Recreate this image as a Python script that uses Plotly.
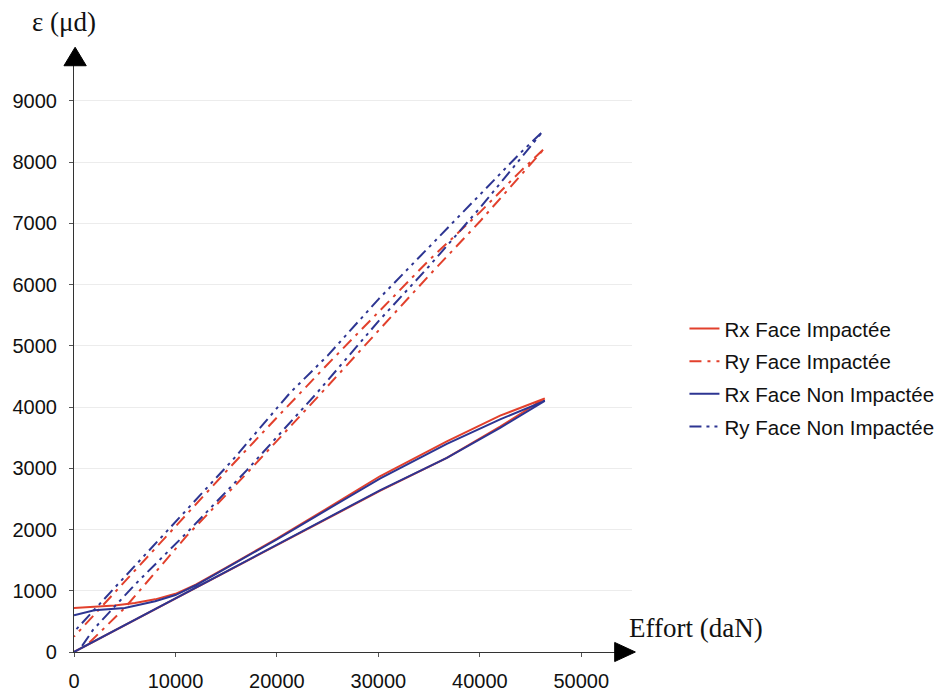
import plotly.graph_objects as go

# ---- data ----
# Rx Face Impactée (red, solid): loading branch then unloading branch
rx_imp_x = [0, 10000, 20000, 30150, 36750, 42000, 46400,
            42000, 36750, 30150, 25000, 20000, 15000, 12000, 10000, 8000, 6000, 4000, 2000, 0]
rx_imp_y = [0, 870, 1740, 2630, 3170, 3680, 4140,
            3860, 3440, 2870, 2350, 1850, 1380, 1100, 950, 860, 800, 760, 740, 720]

# Ry Face Impactée (red, dash-dot)
ry_imp_x = [1500, 5000, 11130, 17040, 23940, 30000, 35000, 40000, 46400,
            44000, 40000, 35000, 30000, 25000, 20000, 15000, 10000, 5000, 0]
ry_imp_y = [150, 720, 1900, 2920, 4150, 5250, 6150, 7030, 8230,
            7850, 7180, 6400, 5550, 4700, 3830, 2950, 2050, 1150, 250]

# Rx Face Non Impactée (blue, solid)
rx_non_x = [0, 10000, 20000, 30150, 36750, 42000, 46400,
            42000, 36750, 30150, 25000, 20000, 15000, 12000, 10000, 8000, 5000, 2000, 0]
rx_non_y = [0, 880, 1750, 2640, 3170, 3660, 4100,
            3800, 3400, 2830, 2330, 1840, 1370, 1090, 930, 830, 720, 680, 600]

# Ry Face Non Impactée (blue, dash-dot-dot)
ry_non_x = [800, 1870, 6000, 11130, 17040, 23940, 30000, 35000, 40000, 46200,
            44000, 40000, 35000, 30000, 25000, 21280, 15660, 9460, 3550, 0]
ry_non_y = [100, 360, 1100, 1950, 2970, 4230, 5400, 6300, 7250, 8500,
            8150, 7470, 6620, 5760, 4840, 4230, 3140, 2030, 965, 330]

series_names = ["Rx Face Impactée", "Ry Face Impactée",
                "Rx Face Non Impactée", "Ry Face Non Impactée"]

x_ticks = [0, 10000, 20000, 30000, 40000, 50000]
y_ticks = [0, 1000, 2000, 3000, 4000, 5000, 6000, 7000, 8000, 9000]

RED = "#e2402c"
BLUE = "#2d3592"

fig = go.Figure()
styles = [
    (rx_imp_x, rx_imp_y, RED, "solid"),
    (ry_imp_x, ry_imp_y, RED, "12px,6px,3px,6px"),
    (rx_non_x, rx_non_y, BLUE, "solid"),
    (ry_non_x, ry_non_y, BLUE, "12px,5px,3px,5px,3px,5px"),
]
for name, (xs, ys, col, dash) in zip(series_names, styles):
    fig.add_trace(go.Scatter(
        x=xs, y=ys, mode="lines", name=name, legendgroup=name,
        line=dict(color=col, width=2, dash=dash),
    ))

tickfont = dict(family="Liberation Sans, Arial, sans-serif", size=20, color="#111")

fig.update_layout(
    width=945, height=693,
    margin=dict(l=74, r=313, t=55, b=41, autoexpand=False),
    plot_bgcolor="white", paper_bgcolor="white",
    showlegend=True,
    legend=dict(
        x=1.094, y=0.575, xanchor="left", yanchor="top",
        font=dict(family="Liberation Sans, Arial, sans-serif", size=20.5, color="#111"),
        tracegroupgap=3, bgcolor="rgba(0,0,0,0)",
    ),
    xaxis=dict(
        range=[0, 55000], tickvals=x_ticks, ticktext=[str(v) for v in x_ticks],
        showgrid=False, zeroline=False, showline=True, linecolor="#333", linewidth=1.2,
        ticks="outside", ticklen=4, tickcolor="#555", tickfont=tickfont,
        ticklabelstandoff=7, automargin=False,
    ),
    yaxis=dict(
        range=[0, 9750], tickvals=y_ticks, ticktext=[str(v) for v in y_ticks],
        showgrid=True, gridcolor="#ececec", gridwidth=1,
        zeroline=False, showline=True, linecolor="#333", linewidth=1.2,
        ticks="outside", ticklen=4, tickcolor="#555", tickfont=tickfont,
        ticklabelstandoff=8, automargin=False,
    ),
    shapes=[
        dict(type="path", xref="paper", yref="paper",
             path="M -0.018,0.982 L 0.002,1.013 L 0.022,0.982 Z",
             fillcolor="black", line=dict(color="black", width=1)),
        dict(type="path", xref="paper", yref="paper",
             path="M 0.969,-0.016 L 1.006,0 L 0.969,0.016 Z",
             fillcolor="black", line=dict(color="black", width=1)),
    ],
    annotations=[
        dict(text="ε (μd)", xref="paper", yref="paper", x=-0.079, y=1.055,
             xanchor="left", yanchor="middle", showarrow=False,
             font=dict(family="Liberation Serif, Times New Roman, serif", size=27, color="#111")),
        dict(text="Effort (daN)", xref="paper", yref="paper", x=0.991, y=0.041,
             xanchor="left", yanchor="middle", showarrow=False,
             font=dict(family="Liberation Serif, Times New Roman, serif", size=27, color="#111")),
    ],
)

fig.write_html("out.html", config={"displayModeBar": False},
               post_script="document.body.style.margin='0';")
